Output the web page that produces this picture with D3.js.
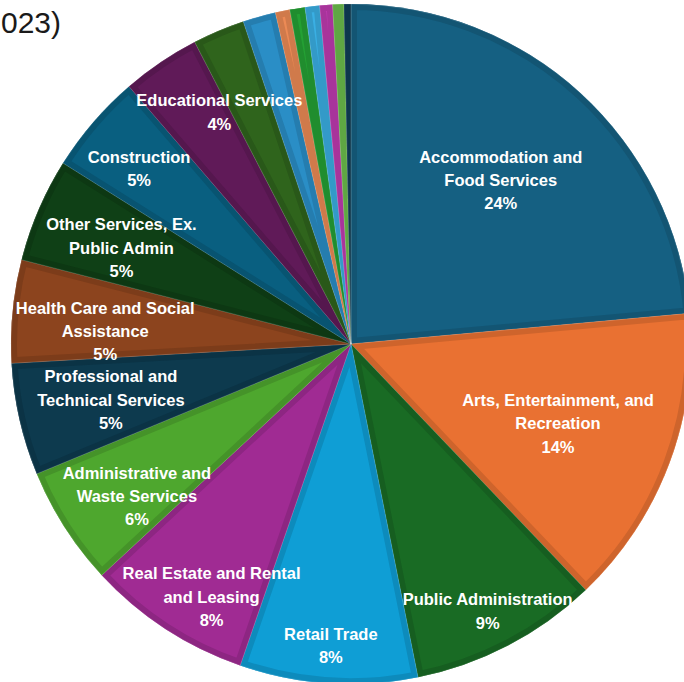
<!DOCTYPE html>
<html>
<head>
<meta charset="utf-8">
<script src="https://cdn.jsdelivr.net/npm/d3@7/dist/d3.min.js"></script>
<style>
  html, body { margin: 0; padding: 0; background: #ffffff; }
  svg { display: block; }
</style>
</head>
<body>
<svg id="chart" width="684" height="682"></svg>
<script>
// ---- data (shares in percent) ----
const categories = [
  "Accommodation and Food Services",
  "Arts, Entertainment, and Recreation",
  "Public Administration",
  "Retail Trade",
  "Real Estate and Rental and Leasing",
  "Administrative and Waste Services",
  "Professional and Technical Services",
  "Health Care and Social Assistance",
  "Other Services, Ex. Public Admin",
  "Construction",
  "Educational Services",
  "Transportation and Warehousing",
  "Manufacturing",
  "Information",
  "Finance and Insurance",
  "Wholesale Trade",
  "Agriculture, Forestry, Fishing and Hunting",
  "Management of Companies",
  "Utilities"
];
const values = [23.56, 14.31, 8.97, 8.44, 7.81, 5.67, 5.33, 4.89, 4.94, 4.75, 3.72, 2.47, 1.56, 0.69, 0.72, 0.69, 0.61, 0.53, 0.33];
// displayed label lines (only the larger slices carry labels)
const labelLines = [
  ["Accommodation and", "Food Services"],
  ["Arts, Entertainment, and", "Recreation"],
  ["Public Administration"],
  ["Retail Trade"],
  ["Real Estate and Rental", "and Leasing"],
  ["Administrative and", "Waste Services"],
  ["Professional and", "Technical Services"],
  ["Health Care and Social", "Assistance"],
  ["Other Services, Ex.", "Public Admin"],
  ["Construction"],
  ["Educational Services"]
];
// visible tail of the (cropped) title
const titleText = "023)";

// ---- styling ----
const colors = [
  "#156082", "#E97132", "#196B24", "#0F9ED5", "#A02B93", "#4EA72E",
  "#0D3A4E", "#8C441E", "#0F4016", "#095F80", "#601A58", "#2F641C",
  "#2A8EC6", "#EC8A55", "#24A034", "#3AAFE3", "#BE3BB0", "#6CBD4C",
  "#0F3E57"
];
// label placement: fraction of radius and angular nudge (degrees)
const labelRadiusFrac = [0.653, 0.652, 0.882, 0.888, 0.849, 0.772, 0.725, 0.724, 0.732, 0.809, 0.785];
const labelAngleNudge = [0, 0.4, 0.4, 0, -4.2, -2.7, -0.2, -2.5, -0.5, -1.1, 4.5];

const W = 684, H = 682;
const cx = 351, cy = 344, R = 340;
const svg = d3.select("#chart");

svg.append("text")
  .attr("x", 1).attr("y", 33)
  .attr("text-anchor", "start")
  .attr("font-family", "'Liberation Sans', Arial, sans-serif")
  .attr("font-size", 30)
  .attr("fill", "#1a1a1a")
  .text(titleText);

const data = categories.map((c, i) => ({ name: c, value: values[i], idx: i }));
const total = d3.sum(values);

const pie = d3.pie().value(d => d.value).sort(null);
const arcs = pie(data);
const arc = d3.arc().innerRadius(0).outerRadius(R);

const defs = svg.append("defs");
const g = svg.append("g").attr("transform", `translate(${cx},${cy})`);

arcs.forEach((d, i) => {
  defs.append("clipPath").attr("id", "clip" + i)
    .append("path").attr("d", arc(d));
});

const slice = g.selectAll("g.slice").data(arcs).enter().append("g").attr("class", "slice");

slice.append("path")
  .attr("d", arc)
  .attr("fill", (d, i) => colors[i]);

// darker inner band (bevel-like edge)
slice.append("path")
  .attr("d", arc)
  .attr("fill", "none")
  .attr("stroke", (d, i) => d3.color(colors[i]).darker(0.35))
  .attr("stroke-width", 12)
  .attr("stroke-linejoin", "round")
  .attr("clip-path", (d, i) => `url(#clip${i})`);

// thin light separator
slice.append("path")
  .attr("d", arc)
  .attr("fill", "none")
  .attr("stroke", "rgba(255,255,255,0.18)")
  .attr("stroke-width", 0.8);

// labels
const lineH = 23.3;
const labelG = g.append("g")
  .attr("font-family", "'Liberation Sans', Arial, sans-serif")
  .attr("font-weight", "bold")
  .attr("font-size", 16.5)
  .attr("fill", "#ffffff")
  .attr("text-anchor", "middle");

arcs.forEach((d, i) => {
  if (i >= labelLines.length) return;
  const nudge = labelAngleNudge[i] * Math.PI / 180;
  const la = d3.arc()
    .innerRadius(R * labelRadiusFrac[i])
    .outerRadius(R * labelRadiusFrac[i])
    .startAngle(d.startAngle + nudge)
    .endAngle(d.endAngle + nudge);
  const [x, y] = la.centroid();
  const lines = labelLines[i].concat([Math.round(d.value / total * 100) + "%"]);
  const n = lines.length;
  const t = labelG.append("text");
  lines.forEach((ln, k) => {
    t.append("tspan")
      .attr("x", x)
      .attr("y", y + (k - (n - 1) / 2) * lineH + 6)
      .text(ln);
  });
});
</script>
</body>
</html>
